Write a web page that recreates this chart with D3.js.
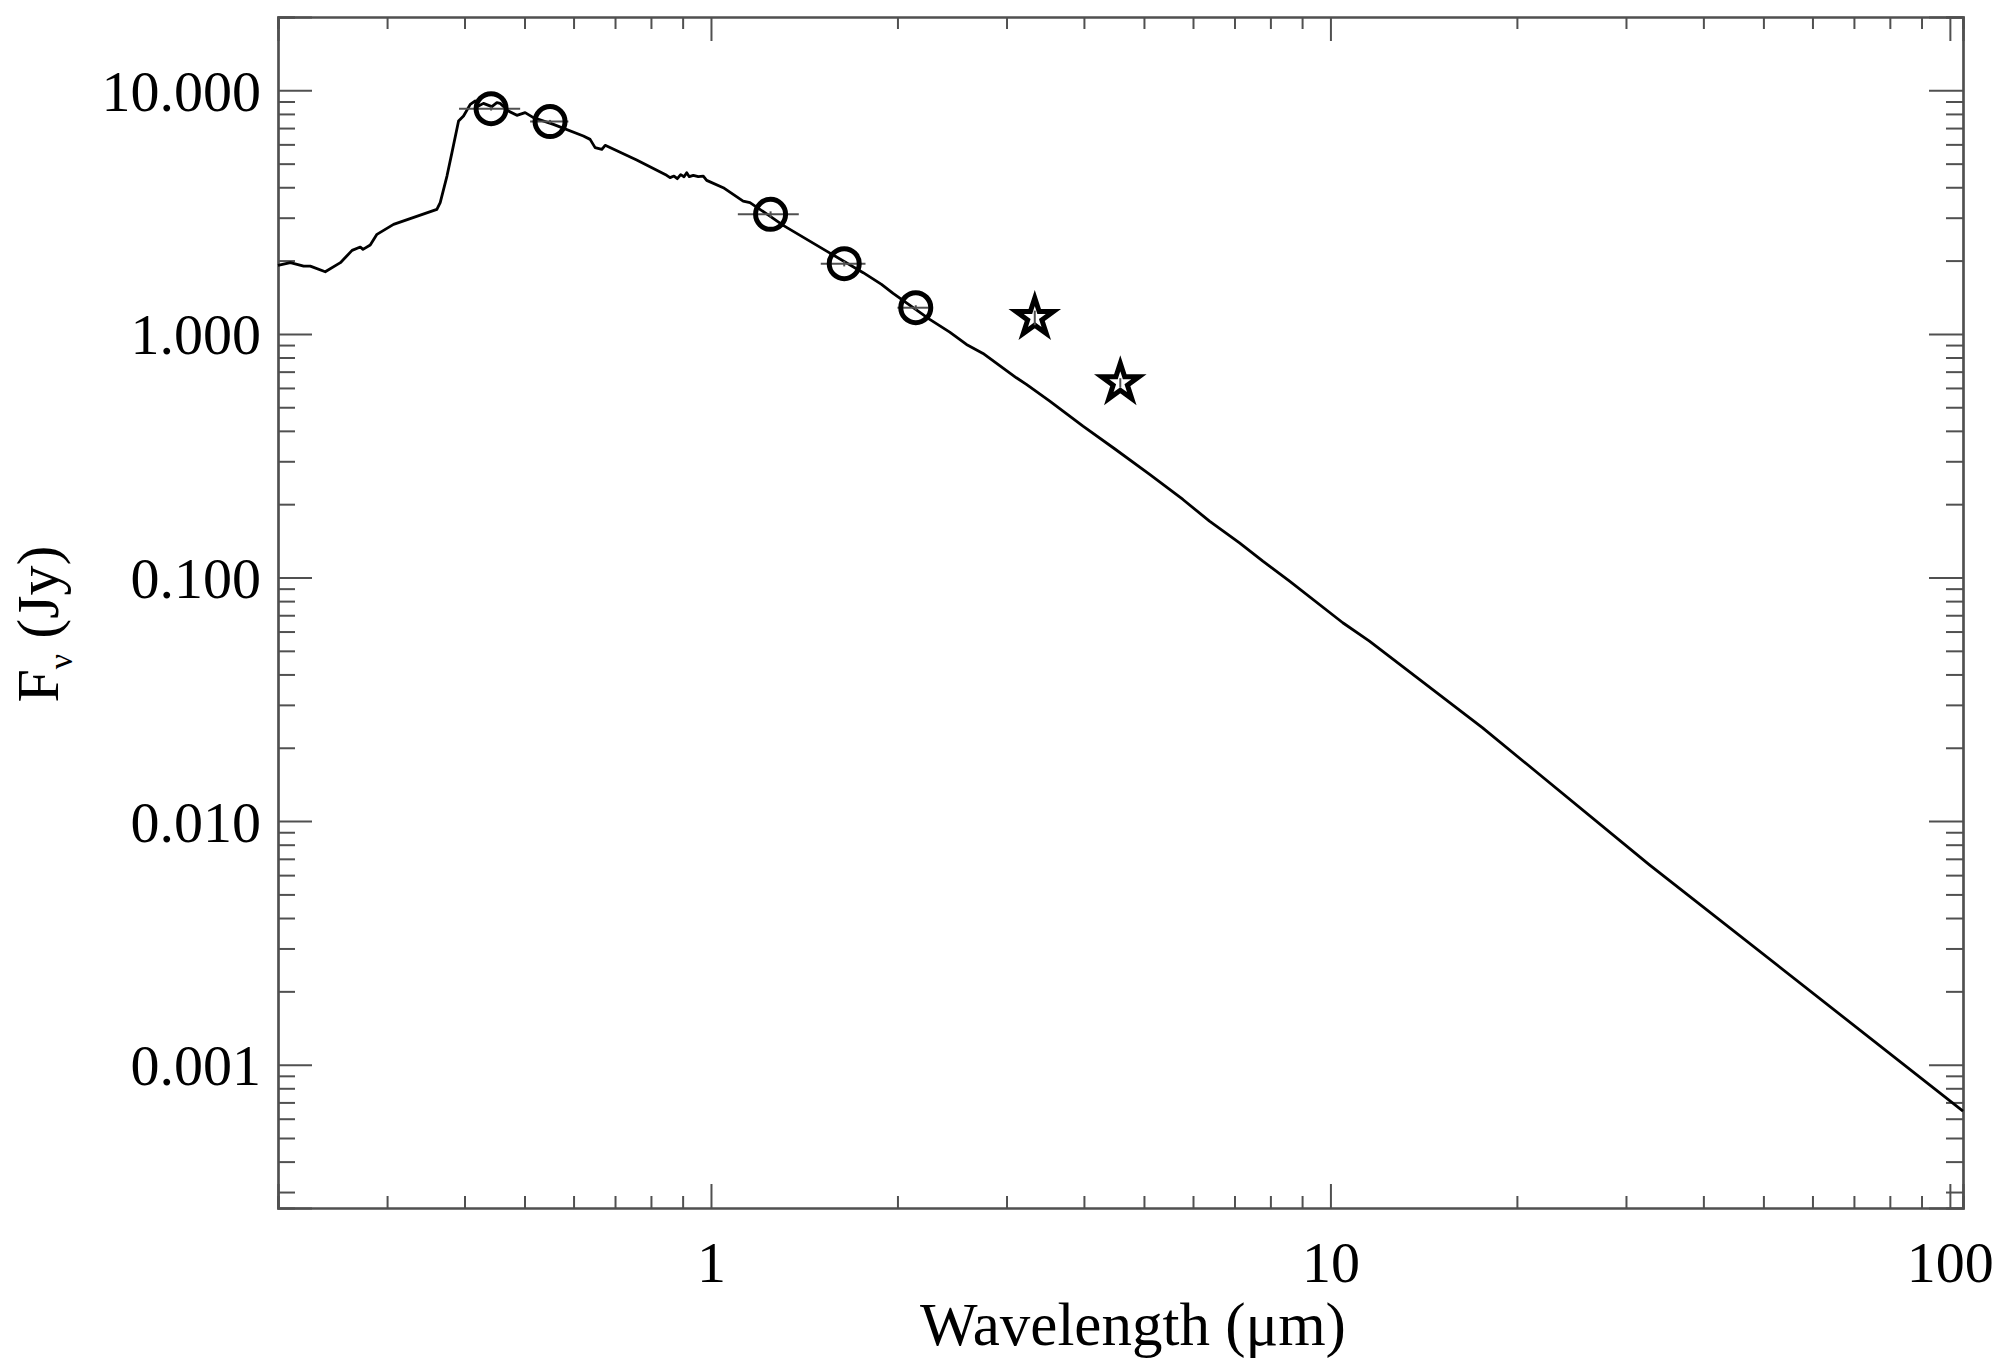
<!DOCTYPE html>
<html>
<head>
<meta charset="utf-8">
<script src="https://cdn.jsdelivr.net/npm/d3@7"></script>
<style>
  html, body { margin: 0; padding: 0; background: #fff; }
  svg { display: block; font-family: "Liberation Serif", "Times New Roman", serif; }
</style>
</head>
<body>
<div id="chart"></div>
<script>
// model spectrum (wavelength in micron, flux in Jy)
const modelWave = [0.2, 0.2094, 0.2200, 0.2255, 0.2384, 0.2522, 0.2634, 0.2716, 0.2743, 0.2818,
  0.2889, 0.3073, 0.3269, 0.3610, 0.3655, 0.3748, 0.3818, 0.3913, 0.3986, 0.4087,
  0.4163, 0.4214, 0.4292, 0.4428, 0.4512, 0.4567, 0.4711, 0.4860, 0.5012, 0.5168,
  0.5567, 0.6223, 0.6381, 0.6501, 0.6666, 0.6748, 0.7587, 0.8481, 0.8589, 0.8716,
  0.8824, 0.8935, 0.9047, 0.9137, 0.9226, 0.9364, 0.9539, 0.9718, 0.9842, 1.0467,
  1.127, 1.156, 1.245, 1.308, 1.537, 1.761, 1.885, 1.968, 2.255, 2.429,
  2.585, 2.749, 3.112, 3.23, 3.523, 3.986, 4.483, 5.107, 5.779, 6.379,
  7.132, 7.778, 8.590, 10.47, 11.56, 17.61, 32.70, 105];
const modelFlux = [1.911, 1.961, 1.898, 1.898, 1.80, 1.961, 2.202, 2.273, 2.223, 2.316,
  2.563, 2.817, 2.972, 3.246, 3.458, 4.446, 5.548, 7.48, 7.844, 8.76,
  9.04, 8.62, 8.84, 8.57, 8.90, 8.84, 8.22, 7.895, 8.10, 7.725,
  7.25, 6.49, 6.29, 5.818, 5.725, 5.945, 5.173, 4.476, 4.38, 4.447,
  4.339, 4.506, 4.42, 4.592, 4.42, 4.476, 4.42, 4.447, 4.27, 3.985,
  3.511, 3.458, 3.047, 2.790, 2.188, 1.784, 1.597, 1.467, 1.147, 1.017,
  0.9055, 0.8316, 0.6607, 0.6203, 0.5297, 0.4182, 0.3377, 0.2649, 0.2091, 0.1703,
  0.1388, 0.1167, 0.0966, 0.0652, 0.0548, 0.02414, 0.00663, 0.000645];

// optical / near-IR photometry (circles)
const photWave   = [0.4416, 0.5498, 1.248, 1.641, 2.141];
const photFlux   = [8.41, 7.44, 3.096, 1.943, 1.281];
const photWaveLo = [0.392, 0.5105, 1.105, 1.504, 2.0];
const photWaveHi = [0.492, 0.5886, 1.386, 1.776, 2.247];
const photErr    = [0.15, 0.12, 0.09, 0.05, 0.03];

// mid-IR photometry (stars)
const wiseWave = [3.332, 4.579];
const wiseFlux = [1.166, 0.630];
const wiseErr  = [0.08, 0.028];

const xMajor = [1, 10, 100];
const yMajor = [10, 1, 0.1, 0.01, 0.001];

const W = 2000, H = 1370;
const L = 278, R = 1963, T = 17, B = 1208;

const x = d3.scaleLog().domain([0.2, 105]).range([L, R]);
const y = d3.scaleLog().domain([2.58e-4, 20]).range([B, T]);

// minor tick positions 2..9 per decade
function minors(scale) {
  const [a, b] = scale.domain();
  const out = [];
  for (let e = Math.floor(Math.log10(a)); e <= Math.ceil(Math.log10(b)); e++) {
    for (let k = 2; k <= 9; k++) {
      const v = k * Math.pow(10, e);
      if (v >= a * 0.9999 && v <= b * 1.0001) out.push(v);
    }
  }
  return out;
}

const svg = d3.select("#chart").append("svg")
  .attr("width", W).attr("height", H);

svg.append("rect").attr("width", W).attr("height", H).attr("fill", "#fff");

const axisColor = "#505050";
const fontSize = 58;

function styleAxis(g) {
  g.select(".domain").attr("stroke", axisColor).attr("stroke-width", 2.2);
  g.selectAll(".tick line").attr("stroke", axisColor).attr("stroke-width", 2);
  g.selectAll("text").attr("fill", "#000").attr("font-size", fontSize)
    .attr("font-family", "Liberation Serif");
}

// bottom axis
svg.append("g").attr("transform", `translate(0,${B})`)
  .call(d3.axisBottom(x).tickValues(minors(x)).tickSize(-12).tickFormat(""))
  .call(styleAxis);
svg.append("g").attr("transform", `translate(0,${B})`)
  .call(d3.axisBottom(x).tickValues(xMajor).tickSize(-24).tickPadding(0)
    .tickFormat(d3.format("d")))
  .call(styleAxis)
  .call(g => g.selectAll("text").attr("y", 74).attr("dy", null));

// top axis
svg.append("g").attr("transform", `translate(0,${T})`)
  .call(d3.axisTop(x).tickValues(minors(x)).tickSize(-12).tickFormat(""))
  .call(styleAxis);
svg.append("g").attr("transform", `translate(0,${T})`)
  .call(d3.axisTop(x).tickValues(xMajor).tickSize(-24).tickFormat(""))
  .call(styleAxis);

// left axis
svg.append("g").attr("transform", `translate(${L},0)`)
  .call(d3.axisLeft(y).tickValues(minors(y)).tickSize(-17).tickFormat(""))
  .call(styleAxis);
svg.append("g").attr("transform", `translate(${L},0)`)
  .call(d3.axisLeft(y).tickValues(yMajor).tickSize(-34).tickPadding(17)
    .tickFormat(d3.format(".3f")))
  .call(styleAxis)
  .call(g => g.selectAll("text").attr("dy", null).attr("y", 20));

// right axis
svg.append("g").attr("transform", `translate(${R},0)`)
  .call(d3.axisRight(y).tickValues(minors(y)).tickSize(-17).tickFormat(""))
  .call(styleAxis);
svg.append("g").attr("transform", `translate(${R},0)`)
  .call(d3.axisRight(y).tickValues(yMajor).tickSize(-34).tickFormat(""))
  .call(styleAxis);

// axis titles
svg.append("text")
  .attr("x", 1133).attr("y", 1345)
  .attr("text-anchor", "middle")
  .attr("font-size", 61)
  .text("Wavelength (\u03bcm)");

const yt = svg.append("text")
  .attr("transform", "translate(58,624) rotate(-90)")
  .attr("text-anchor", "middle")
  .attr("font-size", 60);
yt.append("tspan").text("F");
yt.append("tspan").attr("font-size", 34).attr("dy", 14).text("\u03bd");
yt.append("tspan").attr("dy", -14).text(" (Jy)");

// model curve
const plot = svg.append("g");
const line = d3.line().x(d => x(d[0])).y(d => y(d[1]));
plot.append("path")
  .datum(d3.zip(modelWave, modelFlux))
  .attr("d", line)
  .attr("fill", "none")
  .attr("stroke", "#000")
  .attr("stroke-width", 2.8)
  .attr("stroke-linejoin", "round");

// error bars for photometry
const phot = photWave.map((w, i) => ({ w, f: photFlux[i], lo: photWaveLo[i], hi: photWaveHi[i], e: photErr[i] }));
plot.selectAll(".xerr").data(phot).enter().append("line")
  .attr("x1", d => x(d.lo)).attr("x2", d => x(d.hi))
  .attr("y1", d => y(d.f)).attr("y2", d => y(d.f))
  .attr("stroke", axisColor).attr("stroke-width", 2);
plot.selectAll(".yerr").data(phot).enter().append("line")
  .attr("x1", d => x(d.w)).attr("x2", d => x(d.w))
  .attr("y1", d => y(d.f - d.e)).attr("y2", d => y(d.f + d.e))
  .attr("stroke", axisColor).attr("stroke-width", 2);

plot.selectAll(".phot").data(phot).enter().append("circle")
  .attr("cx", d => x(d.w)).attr("cy", d => y(d.f))
  .attr("r", 15)
  .attr("fill", "none")
  .attr("stroke", "#000")
  .attr("stroke-width", 5);

// stars
const wise = wiseWave.map((w, i) => ({ w, f: wiseFlux[i], e: wiseErr[i] }));
const star = d3.symbol().type(d3.symbolStar).size(430);
plot.selectAll(".wise").data(wise).enter().append("path")
  .attr("transform", d => `translate(${x(d.w)},${y(d.f)})`)
  .attr("d", star)
  .attr("fill", "#fff")
  .attr("stroke", "#000")
  .attr("stroke-width", 5)
  .attr("stroke-linejoin", "miter");
plot.selectAll(".wiseerr").data(wise).enter().append("line")
  .attr("x1", d => x(d.w)).attr("x2", d => x(d.w))
  .attr("y1", d => y(d.f - d.e)).attr("y2", d => y(d.f + d.e))
  .attr("stroke", axisColor).attr("stroke-width", 2);
</script>
</body>
</html>
